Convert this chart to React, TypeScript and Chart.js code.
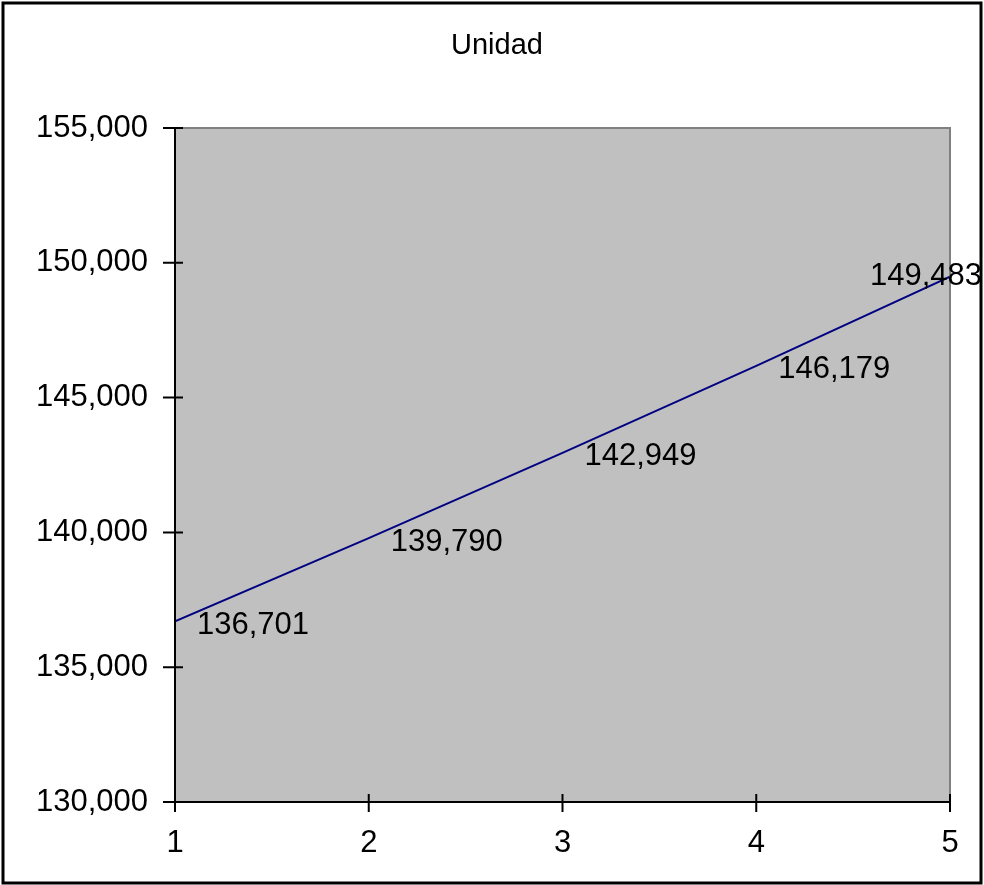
import React, { useEffect, useRef } from 'react';
import { Chart, registerables, Plugin } from 'chart.js';

Chart.register(...registerables);

const periods = [1, 2, 3, 4, 5];
const unidades = [136701, 139790, 142949, 146179, 149483];
const yTicks = [130000, 135000, 140000, 145000, 150000, 155000];
const chartTitle = 'Unidad';

const FONT = '"Liberation Sans", Arial, sans-serif';
const FS = 31;
const fmt = (v: number) => v.toLocaleString('en-US');

const decorPlugin: Plugin<'line'> = {
  id: 'decor',
  beforeDraw(chart) {
    const { ctx, chartArea: a, width, height } = chart;
    ctx.save();
    ctx.fillStyle = '#ffffff';
    ctx.fillRect(0, 0, width, height);
    ctx.fillStyle = '#c0c0c0';
    ctx.fillRect(a.left, a.top, a.right - a.left, a.bottom - a.top);
    // outer frame
    ctx.strokeStyle = '#000';
    ctx.lineWidth = 3;
    ctx.strokeRect(3, 3, width - 6, height - 5);
    // title
    ctx.fillStyle = '#000';
    ctx.font = `${FS - 2}px ${FONT}`;
    ctx.textAlign = 'center';
    ctx.textBaseline = 'middle';
    ctx.fillText(chartTitle, 497, 46);
    ctx.restore();
  },
  afterDraw(chart) {
    const { ctx, chartArea: a } = chart;
    const xs = chart.scales.x;
    const ys = chart.scales.y;
    ctx.save();
    // plot area top/right edges
    ctx.strokeStyle = '#808080';
    ctx.lineWidth = 2;
    ctx.beginPath();
    ctx.moveTo(a.left, a.top);
    ctx.lineTo(a.right, a.top);
    ctx.lineTo(a.right, a.bottom);
    ctx.stroke();
    // axes
    ctx.strokeStyle = '#000';
    ctx.beginPath();
    ctx.moveTo(a.left, a.top);
    ctx.lineTo(a.left, a.bottom);
    ctx.lineTo(a.right, a.bottom);
    ctx.stroke();
    // crossing tick marks
    ctx.beginPath();
    yTicks.forEach((t) => {
      const y = ys.getPixelForValue(t);
      ctx.moveTo(a.left - 12, y);
      ctx.lineTo(a.left + 8, y);
    });
    periods.forEach((p) => {
      const x = xs.getPixelForValue(p);
      ctx.moveTo(x, a.bottom - 8);
      ctx.lineTo(x, a.bottom + 10);
    });
    ctx.stroke();
    // data labels
    ctx.fillStyle = '#000';
    ctx.font = `${FS}px ${FONT}`;
    ctx.textAlign = 'left';
    ctx.textBaseline = 'middle';
    periods.forEach((p, i) => {
      const x = xs.getPixelForValue(p);
      const y = ys.getPixelForValue(unidades[i]);
      const txt = fmt(unidades[i]);
      const w = ctx.measureText(txt).width;
      let lx = x + 22;
      let ly = y + 4;
      if (lx + w > chart.width - 2) {
        lx = chart.width - 2 - w;
        ly = y;
      }
      ctx.fillText(txt, lx, ly);
    });
    ctx.restore();
  },
};

export default function App() {
  const canvasRef = useRef<HTMLCanvasElement | null>(null);
  const chartRef = useRef<Chart<'line'> | null>(null);

  useEffect(() => {
    document.body.style.margin = '0';
    if (!canvasRef.current) return;
    const ctx = canvasRef.current.getContext('2d');
    if (!ctx) return;
    if (chartRef.current) chartRef.current.destroy();

    chartRef.current = new Chart(ctx, {
      type: 'line',
      data: {
        datasets: [
          {
            label: chartTitle,
            data: periods.map((p, i) => ({ x: p, y: unidades[i] })),
            borderColor: '#000080',
            borderWidth: 2,
            pointRadius: 0,
            fill: false,
            tension: 0,
          },
        ],
      },
      options: {
        animation: false,
        responsive: false,
        maintainAspectRatio: false,
        layout: { padding: { top: 128, right: 34, left: 0, bottom: 0 } },
        plugins: {
          legend: { display: false },
          title: { display: false },
          tooltip: { enabled: false },
        },
        scales: {
          x: {
            type: 'linear',
            min: 1,
            max: 5,
            grid: { display: false },
            border: { display: false },
            afterFit: (s) => {
              s.height = 83;
            },
            ticks: {
              stepSize: 1,
              color: '#000',
              padding: 15,
              font: { family: FONT, size: FS },
            },
          },
          y: {
            min: 130000,
            max: 155000,
            grid: { display: false },
            border: { display: false },
            afterFit: (s) => {
              s.width = 175;
            },
            afterBuildTicks: (s) => {
              s.ticks = yTicks.map((v) => ({ value: v }));
            },
            ticks: {
              color: '#000',
              padding: 19,
              font: { family: FONT, size: FS },
              callback: (v) => fmt(Number(v)),
            },
          },
        },
      },
      plugins: [decorPlugin],
    });

    return () => {
      if (chartRef.current) chartRef.current.destroy();
      chartRef.current = null;
    };
  }, []);

  return (
    <div style={{ width: 984, height: 885, overflow: 'hidden' }}>
      <canvas ref={canvasRef} width={984} height={885} />
    </div>
  );
}
